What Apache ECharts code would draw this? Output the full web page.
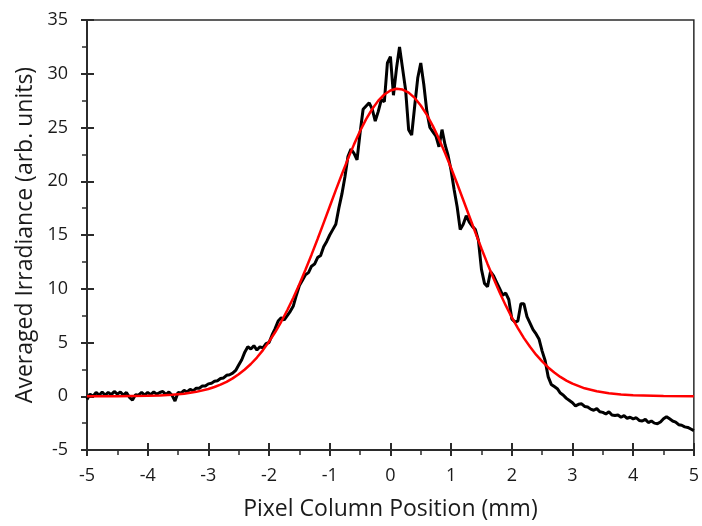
<!DOCTYPE html>
<html>
<head>
<meta charset="utf-8">
<script src="https://cdn.jsdelivr.net/npm/echarts@6/dist/echarts.min.js"></script>
<style>
html,body{margin:0;padding:0;background:#fff;}
#chart{width:702px;height:526px;}
</style>
</head>
<body>
<div id="chart"></div>
<script>
// Measured irradiance, sampled every 0.05 mm from -5 to 5 mm
var measStart = -5, measStep = 0.05;
var measured = [
-0.3,0.2,0.0,0.35,0.1,0.4,0.1,0.35,0.15,0.45,
0.2,0.4,0.1,0.35,-0.1,-0.35,0.15,0.1,0.35,0.1,
0.35,0.15,0.4,0.2,0.35,0.45,0.15,0.4,0.1,-0.45,
0.35,0.3,0.55,0.4,0.65,0.5,0.75,0.75,0.95,0.95,
1.15,1.2,1.4,1.45,1.65,1.7,1.95,2.0,2.15,2.4,
2.9,3.4,4.1,4.6,4.4,4.7,4.3,4.6,4.5,4.9,
5.0,5.7,6.3,7.0,7.3,7.1,7.5,7.9,8.4,9.4,
10.3,10.8,11.3,11.5,12.1,12.3,12.9,13.1,13.9,14.4,
15.0,15.5,16.0,17.5,18.8,20.4,22.3,23.0,22.6,22.0,
24.5,26.7,27.0,27.3,26.7,25.6,26.5,27.6,27.4,31.0,
31.6,28.0,30.5,32.5,30.5,28.5,24.8,24.3,27.0,29.6,
31.0,29.0,26.5,25.0,24.6,24.2,23.2,24.8,23.4,22.4,
21.0,19.2,17.6,15.5,16.0,16.8,16.2,15.8,15.5,14.5,
11.8,10.5,10.2,11.6,11.2,10.6,10.0,9.4,9.6,9.0,
7.2,6.9,7.0,8.6,8.6,7.4,6.8,6.2,5.8,5.3,
4.2,3.3,1.8,1.1,0.9,0.7,0.3,0.1,-0.2,-0.4,
-0.6,-0.9,-0.75,-0.7,-0.95,-1.0,-1.2,-1.3,-1.15,-1.45,
-1.5,-1.65,-1.45,-1.75,-1.8,-1.75,-1.95,-1.8,-2.05,-1.95,
-2.1,-2.0,-2.25,-2.3,-2.15,-2.45,-2.3,-2.5,-2.55,-2.4,
-2.1,-1.9,-2.1,-2.3,-2.4,-2.65,-2.7,-2.85,-2.9,-3.05,
-3.2
];
// Gaussian fit curve
var fitX = [-5,-4.5,-4,-3.8,-3.6,-3.4,-3.2,-3,-2.9,-2.8,-2.7,-2.6,-2.5,-2.4,-2.3,-2.2,-2.1,-2,-1.9,-1.8,-1.7,-1.6,-1.5,-1.4,-1.3,-1.2,-1.1,-1,-0.9,-0.8,-0.7,-0.6,-0.5,-0.4,-0.3,-0.2,-0.1,0,0.1,0.2,0.3,0.4,0.5,0.6,0.7,0.8,0.9,1,1.1,1.2,1.3,1.4,1.5,1.6,1.7,1.8,1.9,2,2.1,2.2,2.3,2.4,2.5,2.6,2.7,2.8,2.9,3,3.2,3.4,3.6,3.8,4,4.5,5];
var fitY = [0.0,0.01,0.04,0.08,0.14,0.24,0.41,0.68,0.86,1.08,1.34,1.66,2.04,2.49,3.0,3.6,4.29,5.08,5.95,6.93,8.0,9.16,10.42,11.76,13.17,14.63,16.13,17.65,19.17,20.65,22.08,23.43,24.67,25.78,26.72,27.5,28.07,28.44,28.6,28.53,28.25,27.75,27.05,26.17,25.13,23.94,22.63,21.23,19.77,18.26,16.74,15.23,13.75,12.31,10.95,9.66,8.45,7.34,6.33,5.41,4.6,3.87,3.24,2.68,2.21,1.8,1.46,1.18,0.74,0.46,0.27,0.16,0.09,0.02,0.0];
var xTicks = [-5,-4,-3,-2,-1,0,1,2,3,4,5];
var yTicks = [-5,0,5,10,15,20,25,30,35];

var measData = measured.map(function(v,i){ return [+(measStart + i*measStep).toFixed(2), v]; });
var fitData = fitX.map(function(x,i){ return [x, fitY[i]]; });

var font = '"Open Sans", "Noto Sans", sans-serif';
var axisCol = '#2b2b2b';
var labelCol = '#1a1a1a';

var chart = echarts.init(document.getElementById('chart'), null, {renderer:'canvas'});
chart.setOption({
  animation:false,
  backgroundColor:'#fff',
  grid:{left:87,right:6,top:20,bottom:74,show:true,borderColor:axisCol,borderWidth:1.5,backgroundColor:'transparent'},
  xAxis:[{
    type:'value',min:xTicks[0],max:xTicks[xTicks.length-1],interval:1,
    axisLine:{show:true,onZero:false,lineStyle:{color:axisCol,width:2}},
    axisTick:{show:true,inside:false,length:6,lineStyle:{color:axisCol,width:2}},
    minorTick:{show:true,splitNumber:2,length:5,lineStyle:{color:axisCol,width:1.5}},
    splitLine:{show:false},
    axisLabel:{color:labelCol,fontFamily:font,fontSize:18,margin:17},
    name:'Pixel Column Position (mm)',nameLocation:'middle',nameGap:48,
    nameTextStyle:{color:labelCol,fontFamily:font,fontSize:23}
  },{
    type:'value',min:xTicks[0],max:xTicks[xTicks.length-1],interval:1,position:'bottom',
    axisLine:{show:false,onZero:false},
    axisTick:{show:true,inside:true,length:7,lineStyle:{color:axisCol,width:2}},
    axisLabel:{show:false},splitLine:{show:false}
  }],
  yAxis:[{
    type:'value',min:yTicks[0],max:yTicks[yTicks.length-1],interval:5,
    axisLine:{show:true,onZero:false,lineStyle:{color:axisCol,width:2}},
    axisTick:{show:true,inside:false,length:6,lineStyle:{color:axisCol,width:2}},
    minorTick:{show:true,splitNumber:2,length:5,lineStyle:{color:axisCol,width:1.5}},
    splitLine:{show:false},
    axisLabel:{color:labelCol,fontFamily:font,fontSize:18,margin:19},
    name:'Averaged Irradiance (arb. units)',nameLocation:'middle',nameGap:47,
    nameTextStyle:{color:labelCol,fontFamily:font,fontSize:23}
  },{
    type:'value',min:yTicks[0],max:yTicks[yTicks.length-1],interval:5,position:'left',
    axisLine:{show:false,onZero:false},
    axisTick:{show:true,inside:true,length:7,lineStyle:{color:axisCol,width:2}},
    axisLabel:{show:false},splitLine:{show:false}
  }],
  series:[{
    type:'line',data:measData,showSymbol:false,symbol:'none',
    lineStyle:{color:'#000',width:3},z:2
  },{
    type:'line',data:fitData,showSymbol:false,symbol:'none',
    lineStyle:{color:'#ff0000',width:2.5},z:3
  }]
});
</script>
</body>
</html>
